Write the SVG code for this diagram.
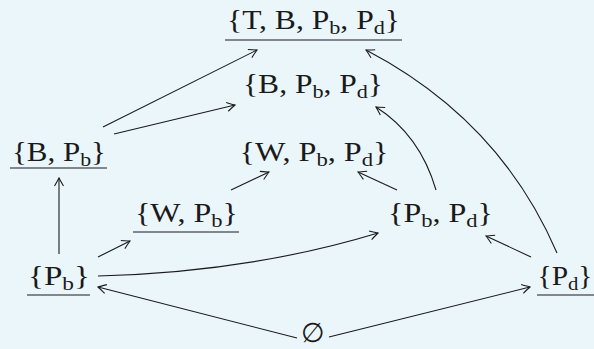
<svg xmlns="http://www.w3.org/2000/svg" width="594" height="349" viewBox="0 0 594 349">
<defs>
<style>
text{font-family:"Liberation Serif","DejaVu Serif",serif;font-size:27px;fill:#1a1a1a;text-anchor:middle}
.s{font-size:19px}
.u{stroke:#1a1a1a;stroke-width:1.2}
.c{fill:none;stroke:#1a1a1a;stroke-width:1.1}
</style>
<marker id="ah" markerWidth="12" markerHeight="12" refX="0" refY="0" viewBox="-10 -6 12 12" orient="auto" markerUnits="userSpaceOnUse">
<path d="M-8,-4.5 Q-2,-1 0,0 Q-2,1 -8,4.5" fill="none" stroke="#1a1a1a" stroke-width="1.1"/>
</marker>
</defs>
<rect width="594" height="349" fill="#ebf6fb"/>
<g id="connectors">
<path class="c" marker-end="url(#ah)" d="M103,127 L257,50"/>
<path class="c" marker-end="url(#ah)" d="M114,134 L235,105"/>
<path class="c" marker-end="url(#ah)" d="M59,254 L59,178"/>
<path class="c" marker-end="url(#ah)" d="M98,257 L130,241"/>
<path class="c" marker-end="url(#ah)" d="M231,190 L269,172"/>
<path class="c" marker-end="url(#ah)" d="M98,276 Q250,272 378,233"/>
<path class="c" marker-end="url(#ah)" d="M397,190 L358,172"/>
<path class="c" marker-end="url(#ah)" d="M436,190 Q420,135 376,107"/>
<path class="c" marker-end="url(#ah)" d="M531,257 L486,236"/>
<path class="c" marker-end="url(#ah)" d="M557,253 Q500,120 366,50"/>
<path class="c" marker-end="url(#ah)" d="M297,338 L98,287"/>
<path class="c" marker-end="url(#ah)" d="M329,337 L530,287"/>
</g>
<g id="n-tbpp">
<text x="313.5" y="29" textLength="173" lengthAdjust="spacingAndGlyphs">{T, B, P<tspan class="s" dy="5">b</tspan><tspan dy="-5">, P</tspan><tspan class="s" dy="5">d</tspan><tspan dy="-5">}</tspan></text>
<line class="u" x1="225" y1="40" x2="402" y2="40"/>
</g>
<g id="n-bpp">
<text x="313" y="93" textLength="140" lengthAdjust="spacingAndGlyphs">{B, P<tspan class="s" dy="5">b</tspan><tspan dy="-5">, P</tspan><tspan class="s" dy="5">d</tspan><tspan dy="-5">}</tspan></text>
</g>
<g id="n-bp">
<text x="59" y="161" textLength="94" lengthAdjust="spacingAndGlyphs">{B, P<tspan class="s" dy="5">b</tspan><tspan dy="-5">}</tspan></text>
<line class="u" x1="10" y1="168" x2="107" y2="168"/>
</g>
<g id="n-wpp">
<text x="314" y="161" textLength="149" lengthAdjust="spacingAndGlyphs">{W, P<tspan class="s" dy="5">b</tspan><tspan dy="-5">, P</tspan><tspan class="s" dy="5">d</tspan><tspan dy="-5">}</tspan></text>
</g>
<g id="n-wp">
<text x="186.5" y="222" textLength="103" lengthAdjust="spacingAndGlyphs">{W, P<tspan class="s" dy="5">b</tspan><tspan dy="-5">}</tspan></text>
<line class="u" x1="133" y1="232" x2="239" y2="232"/>
</g>
<g id="n-pp">
<text x="440.5" y="222" textLength="105" lengthAdjust="spacingAndGlyphs">{P<tspan class="s" dy="5">b</tspan><tspan dy="-5">, P</tspan><tspan class="s" dy="5">d</tspan><tspan dy="-5">}</tspan></text>
</g>
<g id="n-pb">
<text x="59" y="285" textLength="62" lengthAdjust="spacingAndGlyphs">{P<tspan class="s" dy="5">b</tspan><tspan dy="-5">}</tspan></text>
<line class="u" x1="27" y1="295" x2="90" y2="295"/>
</g>
<g id="n-pd">
<text x="565" y="285" textLength="55" lengthAdjust="spacingAndGlyphs">{P<tspan class="s" dy="5">d</tspan><tspan dy="-5">}</tspan></text>
<line class="u" x1="537" y1="295" x2="594" y2="295"/>
</g>
<g id="n-empty">
<text x="313" y="342" font-size="28">∅</text>
</g>
</svg>
